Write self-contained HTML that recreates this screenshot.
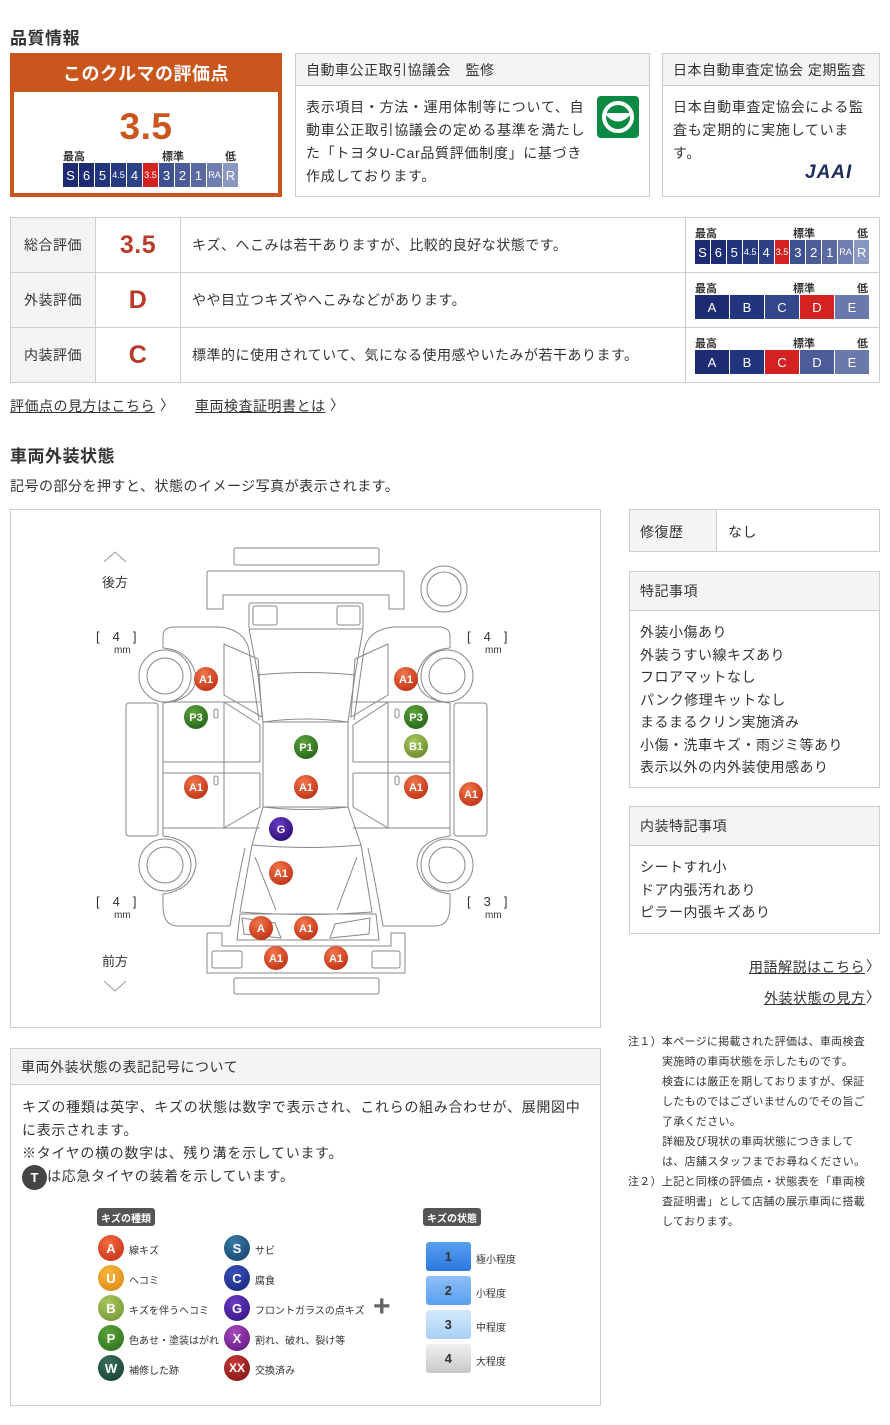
<!DOCTYPE html>
<html><head><meta charset="utf-8"><style>
*{margin:0;padding:0;box-sizing:border-box}
body{width:890px;height:1425px;position:relative;background:#fff;font-family:"Liberation Sans","Noto Sans CJK JP",sans-serif;color:#333;overflow:hidden;letter-spacing:0.5px}
.a{position:absolute}
.h{font-size:17px;font-weight:bold;color:#333}
.box{position:absolute;border:1px solid #ccc;background:#fff}
.bh{background:#f4f4f4;border-bottom:1px solid #ccc;font-size:14px;padding-left:10px;display:flex;align-items:center}
.t14{font-size:14px;line-height:23px}
.sc{position:absolute;display:flex;gap:1px;letter-spacing:0}
.sc div{height:100%;color:#fff;display:flex;align-items:center;justify-content:center;font-size:13px}
.lb{position:absolute;font-size:11px;font-weight:bold;color:#333;letter-spacing:0}
table{border-collapse:collapse}
.lnk{position:absolute;font-size:14px;color:#333;text-decoration:underline}
.tag{position:absolute;background:#555;color:#fff;font-size:10px;font-weight:bold;border-radius:3px;padding:2px 4px;height:18px;letter-spacing:0}
.ic{position:absolute;width:26px;height:26px;border-radius:50%;color:#fff;font-weight:bold;font-size:13px;display:flex;align-items:center;justify-content:center;letter-spacing:0}
.it{position:absolute;font-size:10px;color:#333;letter-spacing:0}
.st{position:absolute;width:45px;height:29px;border-radius:3px;display:flex;align-items:center;justify-content:center;font-size:13px;font-weight:bold;color:#333}
</style></head><body>

<div class="a h" style="left:10px;top:24px">品質情報</div>

<div class="a" style="left:10px;top:53px;width:272px;height:144px;background:#c9561c"></div>
<div class="a" style="left:10px;top:60px;width:272px;text-align:center;color:#fff;font-weight:bold;font-size:18px">このクルマの評価点</div>
<div class="a" style="left:14px;top:92px;width:264px;height:101px;background:#fff"></div>
<div class="a" style="left:14px;top:107px;width:264px;text-align:center;color:#c9561c;font-weight:bold;font-size:37px;line-height:40px">3.5</div>
<div class="lb" style="left:63px;top:148px">最高</div><div class="lb" style="left:162px;top:148px">標準</div><div class="lb" style="left:225px;top:148px">低</div>
<div class="sc" style="left:63px;top:163px;height:24px;width:175px">
<div style="width:15px;background:#1d2c72">S</div><div style="width:15px;background:#1d2c72">6</div><div style="width:15px;background:#22357c">5</div><div style="width:15px;background:#27397f;font-size:9px">4.5</div><div style="width:15px;background:#2d4186">4</div><div style="width:15px;background:#d42222;font-size:9px">3.5</div><div style="width:15px;background:#3d5090">3</div><div style="width:15px;background:#4b5c98">2</div><div style="width:15px;background:#5a6aa1">1</div><div style="width:15px;background:#6f7eae;font-size:9px">RA</div><div style="width:15px;background:#8a97c0">R</div>
</div>

<div class="box" style="left:295px;top:53px;width:355px;height:144px">
<div class="bh" style="height:32px">自動車公正取引協議会　監修</div>
<div class="t14" style="position:absolute;left:10px;top:42px;width:285px;letter-spacing:0.7px">表示項目・方法・運用体制等について、自動車公正取引協議会の定める基準を満たした「トヨタU-Car品質評価制度」に基づき作成しております。</div>
<div style="position:absolute;left:301px;top:42px;width:42px;height:42px;background:#0b8a44;border-radius:4px">
<svg width="42" height="42"><circle cx="21" cy="21" r="14" fill="none" stroke="#fff" stroke-width="4"/><path d="M7,17 Q21,34 35,17" fill="#fff"/></svg></div>
</div>

<div class="box" style="left:662px;top:53px;width:218px;height:144px">
<div class="bh" style="height:32px">日本自動車査定協会 定期監査</div>
<div class="t14" style="position:absolute;left:10px;top:42px;width:198px;letter-spacing:0.7px">日本自動車査定協会による監査も定期的に実施しています。</div>
<div style="position:absolute;left:142px;top:108px;font-weight:bold;font-style:italic;font-size:19px;color:#1d2c5c;letter-spacing:1px">JAAI</div>
</div>

<table class="a" style="left:10px;top:217px;width:870px;font-size:14px">
<tr style="height:55px"><td style="width:85px;background:#f4f4f4;border:1px solid #ccc;padding-left:13px">総合評価</td><td style="width:85px;border:1px solid #ccc;text-align:center;color:#b83a2a;font-weight:bold;font-size:25px">3.5</td><td style="width:505px;border:1px solid #ccc;padding-left:11px">キズ、へこみは若干ありますが、比較的良好な状態です。</td><td style="border:1px solid #ccc"></td></tr>
<tr style="height:55px"><td style="background:#f4f4f4;border:1px solid #ccc;padding-left:13px">外装評価</td><td style="border:1px solid #ccc;text-align:center;color:#b83a2a;font-weight:bold;font-size:25px">D</td><td style="border:1px solid #ccc;padding-left:11px">やや目立つキズやへこみなどがあります。</td><td style="border:1px solid #ccc"></td></tr>
<tr style="height:55px"><td style="background:#f4f4f4;border:1px solid #ccc;padding-left:13px">内装評価</td><td style="border:1px solid #ccc;text-align:center;color:#b83a2a;font-weight:bold;font-size:25px">C</td><td style="border:1px solid #ccc;padding-left:11px">標準的に使用されていて、気になる使用感やいたみが若干あります。</td><td style="border:1px solid #ccc"></td></tr>
</table>
<div class="lb" style="left:695px;top:225px">最高</div><div class="lb" style="left:793px;top:225px">標準</div><div class="lb" style="left:857px;top:225px">低</div>
<div class="sc" style="left:695px;top:240px;height:24px;width:174px">
<div style="width:15px;background:#1d2c72">S</div><div style="width:15px;background:#1d2c72">6</div><div style="width:15px;background:#22357c">5</div><div style="width:15px;background:#27397f;font-size:9px">4.5</div><div style="width:15px;background:#2d4186">4</div><div style="width:15px;background:#d42222;font-size:9px">3.5</div><div style="width:15px;background:#3d5090">3</div><div style="width:15px;background:#4b5c98">2</div><div style="width:15px;background:#5a6aa1">1</div><div style="width:15px;background:#6f7eae;font-size:9px">RA</div><div style="width:15px;background:#8a97c0">R</div>
</div>
<div class="lb" style="left:695px;top:280px">最高</div><div class="lb" style="left:793px;top:280px">標準</div><div class="lb" style="left:857px;top:280px">低</div>
<div class="sc" style="left:695px;top:295px;height:24px;width:174px">
<div style="width:34px;background:#1d2c72">A</div><div style="width:34px;background:#22357c">B</div><div style="width:34px;background:#34478a">C</div><div style="width:34px;background:#d42222">D</div><div style="width:34px;background:#6a79ab">E</div></div>
<div class="lb" style="left:695px;top:335px">最高</div><div class="lb" style="left:793px;top:335px">標準</div><div class="lb" style="left:857px;top:335px">低</div>
<div class="sc" style="left:695px;top:350px;height:24px;width:174px">
<div style="width:34px;background:#1d2c72">A</div><div style="width:34px;background:#22357c">B</div><div style="width:34px;background:#d42222">C</div><div style="width:34px;background:#4b5c98">D</div><div style="width:34px;background:#6a79ab">E</div></div>

<div class="lnk" style="left:10px;top:396px">評価点の見方はこちら</div><div class="a" style="left:160px;top:395px;font-size:14px">〉</div>
<div class="lnk" style="left:195px;top:396px">車両検査証明書とは</div><div class="a" style="left:330px;top:395px;font-size:14px">〉</div>

<div class="a h" style="left:10px;top:442px">車両外装状態</div>
<div class="a" style="left:10px;top:476px;font-size:14px">記号の部分を押すと、状態のイメージ写真が表示されます。</div>

<div class="box" style="left:10px;top:509px;width:591px;height:519px"></div>
<svg class="a" style="left:0;top:0" width="610" height="1030" fill="none" stroke="#888" stroke-width="1">
<defs>
<radialGradient id="gr" cx="40%" cy="30%" r="70%"><stop offset="0" stop-color="#f2764a"/><stop offset="1" stop-color="#c2361a"/></radialGradient>
<radialGradient id="gg" cx="40%" cy="30%" r="70%"><stop offset="0" stop-color="#5aa33a"/><stop offset="1" stop-color="#2a6a1c"/></radialGradient>
<radialGradient id="gl" cx="40%" cy="30%" r="70%"><stop offset="0" stop-color="#a8c860"/><stop offset="1" stop-color="#6e902e"/></radialGradient>
<radialGradient id="gp" cx="40%" cy="30%" r="70%"><stop offset="0" stop-color="#6a3ac8"/><stop offset="1" stop-color="#2e1278"/></radialGradient>
</defs>
<path d="M104,562 L115,552 L126,562" stroke="#999"/>
<path d="M104,981 L115,991 L126,981" stroke="#999"/>
<rect x="234" y="548" width="145" height="17" rx="2"/>
<path d="M209,571 H402 Q404,571 404,573 V609 H389 V595 H223 V609 H207 V573 Q207,571 209,571 Z"/>
<circle cx="444" cy="589" r="23"/><circle cx="444" cy="589" r="17"/>
<rect x="249" y="603" width="114" height="26" rx="2"/>
<rect x="253" y="606" width="24" height="19" rx="2"/><rect x="337" y="606" width="23" height="19" rx="2"/>
<path d="M249,629 L258,675 M363,629 L355,675 M258,675 Q306,670 355,675 M258,675 L263,722 M355,675 L348,722 M263,722 Q306,716 348,722"/>
<rect x="263" y="722" width="85" height="85"/>
<path d="M263,807 Q306,812 348,807 L361,845 Q306,850 252,845 Z"/>
<path d="M252,845 L240,912 Q306,917 372,912 L361,845 M255,857 L276,910 M357,857 L337,910"/>
<path d="M240,914 L376,914 L379,940 L237,940 Z M242,918 L275,923 L281,938 L244,934 Z M370,918 L335,924 L330,938 L369,934 Z"/>
<path d="M209,933 H222 V946 H391 V933 H404 Q405,933 405,935 V973 H207 V935 Q207,933 209,933 Z"/>
<rect x="212" y="951" width="30" height="17" rx="2"/><rect x="372" y="951" width="28" height="17" rx="2"/>
<rect x="234" y="978" width="145" height="16" rx="2"/>
<path d="M163,648 V636 Q163,627 175,627 H220 Q245,630 249,650 L259,720 M163,648 Q190,650 196,676 Q196,700 163,703 M163,703 V836 M163,836 Q196,840 196,865 Q192,890 163,894 V906 Q163,926 178,926 H230 M230,926 Q238,880 245,848"/>
<path d="M163,702 H260 M163,762 H260 M163,773 H260 M163,828 H260 M224,702 V828 M224,644 L258,659 L262,717 L224,695 Z M224,702 L260,725 M224,828 L260,807"/>
<path d="M260,762 V725 M260,773 V807"/>
<rect x="126" y="703" width="32" height="133" rx="3"/>
<circle cx="165" cy="676" r="26"/><circle cx="165" cy="676" r="18"/>
<circle cx="165" cy="865" r="26"/><circle cx="165" cy="865" r="18"/>
<path d="M450,648 V636 Q450,627 438,627 H393 Q368,630 364,650 L354,720 M450,648 Q423,650 417,676 Q417,700 450,703 M450,703 V836 M450,836 Q417,840 417,865 Q421,890 450,894 V906 Q450,926 435,926 H383 M383,926 Q375,880 368,848"/>
<path d="M450,702 H353 M450,762 H353 M450,773 H353 M450,828 H353 M388,702 V828 M388,644 L355,659 L351,717 L388,695 Z M388,702 L353,725 M388,828 L353,807"/>
<path d="M353,762 V725 M353,773 V807"/>
<rect x="454" y="703" width="33" height="133" rx="3"/>
<circle cx="447" cy="676" r="26"/><circle cx="447" cy="676" r="18"/>
<circle cx="447" cy="865" r="26"/><circle cx="447" cy="865" r="18"/>
<rect x="214" y="709" width="4" height="9" rx="2"/><rect x="214" y="776" width="4" height="9" rx="2"/>
<rect x="395" y="709" width="4" height="9" rx="2"/><rect x="395" y="776" width="4" height="9" rx="2"/>
<g stroke="none">
<circle cx="206" cy="679" r="12" fill="url(#gr)"/><circle cx="406" cy="679" r="12" fill="url(#gr)"/>
<circle cx="196" cy="717" r="12" fill="url(#gg)"/><circle cx="416" cy="717" r="12" fill="url(#gg)"/>
<circle cx="306" cy="747" r="12" fill="url(#gg)"/><circle cx="416" cy="746" r="12" fill="url(#gl)"/>
<circle cx="196" cy="787" r="12" fill="url(#gr)"/><circle cx="306" cy="787" r="12" fill="url(#gr)"/>
<circle cx="416" cy="787" r="12" fill="url(#gr)"/><circle cx="471" cy="794" r="12" fill="url(#gr)"/>
<circle cx="281" cy="829" r="12" fill="url(#gp)"/><circle cx="281" cy="873" r="12" fill="url(#gr)"/>
<circle cx="261" cy="928" r="12" fill="url(#gr)"/><circle cx="306" cy="928" r="12" fill="url(#gr)"/>
<circle cx="276" cy="958" r="12" fill="url(#gr)"/><circle cx="336" cy="958" r="12" fill="url(#gr)"/>
</g>
<g fill="#fff" stroke="none" font-family="Liberation Sans,sans-serif" font-size="11" font-weight="bold" text-anchor="middle" letter-spacing="0">
<text x="206" y="683">A1</text><text x="406" y="683">A1</text><text x="196" y="721">P3</text><text x="416" y="721">P3</text>
<text x="306" y="751">P1</text><text x="416" y="750">B1</text><text x="196" y="791">A1</text><text x="306" y="791">A1</text>
<text x="416" y="791">A1</text><text x="471" y="798">A1</text><text x="281" y="833">G</text><text x="281" y="877">A1</text>
<text x="261" y="932">A</text><text x="306" y="932">A1</text><text x="276" y="962">A1</text><text x="336" y="962">A1</text>
</g>
<g fill="#333" stroke="none" font-family="Liberation Sans,Noto Sans CJK JP,sans-serif" font-size="13" letter-spacing="0">
<text x="102" y="587">後方</text><text x="102" y="966">前方</text>
<text x="96" y="641">[　4　]</text><text x="467" y="641">[　4　]</text>
<text x="96" y="906">[　4　]</text><text x="467" y="906">[　3　]</text>
<text x="114" y="653" font-size="10">mm</text><text x="485" y="653" font-size="10">mm</text>
<text x="114" y="918" font-size="10">mm</text><text x="485" y="918" font-size="10">mm</text>
</g>
</svg>

<div class="box" style="left:629px;top:509px;width:251px;height:43px;font-size:14px">
<div style="position:absolute;left:0;top:0;width:87px;height:41px;background:#f4f4f4;border-right:1px solid #ccc;padding:12px 0 0 10px">修復歴</div>
<div style="position:absolute;left:98px;top:12px">なし</div></div>
<div class="box" style="left:629px;top:571px;width:251px;height:217px">
<div class="bh" style="height:39px">特記事項</div>
<div style="position:absolute;left:10px;top:49px;font-size:14px;line-height:22.5px">外装小傷あり<br>外装うすい線キズあり<br>フロアマットなし<br>パンク修理キットなし<br>まるまるクリン実施済み<br>小傷・洗車キズ・雨ジミ等あり<br>表示以外の内外装使用感あり</div></div>
<div class="box" style="left:629px;top:806px;width:251px;height:128px">
<div class="bh" style="height:39px">内装特記事項</div>
<div style="position:absolute;left:10px;top:49px;font-size:14px;line-height:22.5px">シートすれ小<br>ドア内張汚れあり<br>ピラー内張キズあり</div></div>
<div class="lnk" style="left:749px;top:957px">用語解説はこちら</div><div class="a" style="left:866px;top:956px;font-size:14px">〉</div>
<div class="lnk" style="left:764px;top:988px">外装状態の見方</div><div class="a" style="left:866px;top:987px;font-size:14px">〉</div>

<div class="a" style="left:628px;top:1032px;font-size:11px;line-height:20px;color:#333;letter-spacing:0.3px">
<div>注１）本ページに掲載された評価は、車両検査</div>
<div style="padding-left:34px">実施時の車両状態を示したものです。<br>検査には厳正を期しておりますが、保証<br>したものではございませんのでその旨ご<br>了承ください。<br>詳細及び現状の車両状態につきまして<br>は、店舗スタッフまでお尋ねください。</div>
<div>注２）上記と同様の評価点・状態表を「車両検</div>
<div style="padding-left:34px">査証明書」として店舗の展示車両に搭載<br>しております。</div></div>

<div class="box" style="left:10px;top:1048px;width:591px;height:358px">
<div class="bh" style="height:36px">車両外装状態の表記記号について</div>
<div style="position:absolute;left:11px;top:47px;width:560px;font-size:14px;line-height:23px;letter-spacing:0.7px">キズの種類は英字、キズの状態は数字で表示され、これらの組み合わせが、展開図中に表示されます。<br>※タイヤの横の数字は、残り溝を示しています。<br><span style="display:inline-block;width:25px;height:25px;border-radius:50%;background:#444;color:#fff;text-align:center;line-height:25px;font-weight:bold;font-size:13px;vertical-align:middle;letter-spacing:0">T</span>は応急タイヤの装着を示しています。</div>
</div>
<div class="tag" style="left:97px;top:1208px">キズの種類</div>
<div class="tag" style="left:423px;top:1208px">キズの状態</div>
<div class="ic" style="left:98px;top:1235px;background:radial-gradient(circle at 40% 30%,#f26a40,#c22a14)">A</div><div class="it" style="left:129px;top:1242px">線キズ</div>
<div class="ic" style="left:98px;top:1265px;background:radial-gradient(circle at 40% 30%,#f8b840,#d88010)">U</div><div class="it" style="left:129px;top:1272px">ヘコミ</div>
<div class="ic" style="left:98px;top:1295px;background:radial-gradient(circle at 40% 30%,#a8c860,#6e902e)">B</div><div class="it" style="left:129px;top:1302px">キズを伴うヘコミ</div>
<div class="ic" style="left:98px;top:1325px;background:radial-gradient(circle at 40% 30%,#5aa33a,#2a6a1c)">P</div><div class="it" style="left:129px;top:1332px">色あせ・塗装はがれ</div>
<div class="ic" style="left:98px;top:1355px;background:radial-gradient(circle at 40% 30%,#3a7060,#123a30)">W</div><div class="it" style="left:129px;top:1362px">補修した跡</div>
<div class="ic" style="left:224px;top:1235px;background:radial-gradient(circle at 40% 30%,#3a7aa8,#123e68)">S</div><div class="it" style="left:255px;top:1242px">サビ</div>
<div class="ic" style="left:224px;top:1265px;background:radial-gradient(circle at 40% 30%,#3a50b8,#142478)">C</div><div class="it" style="left:255px;top:1272px">腐食</div>
<div class="ic" style="left:224px;top:1295px;background:radial-gradient(circle at 40% 30%,#6a3ac8,#2e1278)">G</div><div class="it" style="left:255px;top:1302px">フロントガラスの点キズ</div>
<div class="ic" style="left:224px;top:1325px;background:radial-gradient(circle at 40% 30%,#a848c0,#5a1478)">X</div><div class="it" style="left:255px;top:1332px">割れ、破れ、裂け等</div>
<div class="ic" style="left:224px;top:1355px;background:radial-gradient(circle at 40% 30%,#c83a3a,#781212);font-size:12px">XX</div><div class="it" style="left:255px;top:1362px">交換済み</div>
<div class="a" style="left:373px;top:1292px;font-size:30px;font-weight:bold;color:#666;line-height:30px">+</div>
<div class="st" style="left:426px;top:1242px;background:linear-gradient(#5aa0f0,#2a78e0)">1</div><div class="it" style="left:476px;top:1251px">極小程度</div>
<div class="st" style="left:426px;top:1276px;background:linear-gradient(#8cc0f8,#5a9ef0)">2</div><div class="it" style="left:476px;top:1285px">小程度</div>
<div class="st" style="left:426px;top:1310px;background:linear-gradient(#d4e8fc,#a8d0f8)">3</div><div class="it" style="left:476px;top:1319px">中程度</div>
<div class="st" style="left:426px;top:1344px;background:linear-gradient(#f0f0f0,#c8c8c8)">4</div><div class="it" style="left:476px;top:1353px">大程度</div>

</body></html>
